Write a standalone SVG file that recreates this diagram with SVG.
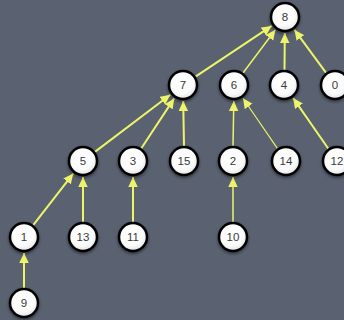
<svg xmlns="http://www.w3.org/2000/svg" width="344" height="320" viewBox="0 0 344 320">
<defs>
<style>
.n circle{fill:url(#g);stroke:#000;stroke-width:2.5;filter:url(#sh)}
.n text{font-family:"Liberation Sans",Arial,sans-serif;font-size:11.5px;fill:#3a3a3a;text-anchor:middle;dominant-baseline:central}
#edges line{stroke:#eef46a;stroke-width:2;marker-end:url(#ah)}
#edges line.thin{stroke-width:1.5}
#edges line.thinner{stroke-width:1.1}
</style>
<radialGradient id="g" cx="0.45" cy="0.4" r="0.6">
<stop offset="0" stop-color="#ffffff"/>
<stop offset="0.7" stop-color="#fafafa"/>
<stop offset="1" stop-color="#e4e4e4"/>
</radialGradient>
<filter id="sh" x="-40%" y="-40%" width="180%" height="180%">
<feDropShadow dx="0" dy="1.5" stdDeviation="1.5" flood-color="#000" flood-opacity="0.5"/>
</filter>
<marker id="ah" markerUnits="userSpaceOnUse" markerWidth="11" markerHeight="10" refX="10" refY="4.75" orient="auto">
<path d="M0,0 L10,4.75 L0,9.5 z" fill="#eef46a"/>
</marker>
</defs>
<rect width="344" height="320" fill="#5a6170"/>
<g id="edges">
<line x1="195.5" y1="76.7" x2="271.7" y2="25.9"/>
<line x1="243" y1="73" x2="275.4" y2="29.8" class="thin"/>
<line x1="284.5" y1="70" x2="284.8" y2="33"/>
<line x1="326.1" y1="72.9" x2="294.5" y2="29.9"/>
<line x1="94.9" y1="151.9" x2="170.3" y2="94.7"/>
<line x1="141.2" y1="148.5" x2="174.2" y2="98.4"/>
<line x1="184" y1="146" x2="183.2" y2="101"/>
<line x1="233" y1="146" x2="233.8" y2="101" class="thin"/>
<line x1="277.5" y1="148.6" x2="243" y2="98.2" class="thinner"/>
<line x1="328.4" y1="148.7" x2="293.2" y2="98.1"/>
<line x1="33.2" y1="225.1" x2="73.2" y2="173.6"/>
<line x1="83" y1="222" x2="83" y2="177"/>
<line x1="133" y1="222" x2="133" y2="177"/>
<line x1="24" y1="288" x2="24" y2="253"/>
<line x1="233" y1="222" x2="233" y2="177" class="thin"/>
</g>
<g id="n8" class="n"><circle cx="285" cy="17" r="14"/><text x="285" y="17">8</text></g>
<g id="n7" class="n"><circle cx="183" cy="85" r="14"/><text x="183" y="85">7</text></g>
<g id="n6" class="n"><circle cx="234" cy="85" r="14"/><text x="234" y="85">6</text></g>
<g id="n4" class="n"><circle cx="284" cy="85" r="14"/><text x="284" y="85">4</text></g>
<g id="n0" class="n"><circle cx="335" cy="85" r="14"/><text x="335" y="85">0</text></g>
<g id="n5" class="n"><circle cx="83" cy="161" r="14"/><text x="83" y="161">5</text></g>
<g id="n3" class="n"><circle cx="133" cy="161" r="14"/><text x="133" y="161">3</text></g>
<g id="n15" class="n"><circle cx="184" cy="161" r="14"/><text x="184" y="161">15</text></g>
<g id="n2" class="n"><circle cx="233" cy="161" r="14"/><text x="233" y="161">2</text></g>
<g id="n14" class="n"><circle cx="286" cy="161" r="14"/><text x="286" y="161">14</text></g>
<g id="n12" class="n"><circle cx="337" cy="161" r="14"/><text x="337" y="161">12</text></g>
<g id="n1" class="n"><circle cx="24" cy="237" r="14"/><text x="24" y="237">1</text></g>
<g id="n13" class="n"><circle cx="83" cy="237" r="14"/><text x="83" y="237">13</text></g>
<g id="n11" class="n"><circle cx="133" cy="237" r="14"/><text x="133" y="237">11</text></g>
<g id="n10" class="n"><circle cx="233" cy="237" r="14"/><text x="233" y="237">10</text></g>
<g id="n9" class="n"><circle cx="24" cy="303" r="14"/><text x="24" y="303">9</text></g>
</svg>
